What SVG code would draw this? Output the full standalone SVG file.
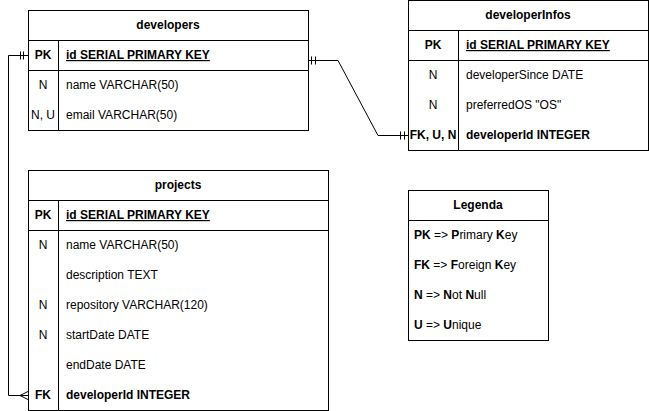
<svg xmlns="http://www.w3.org/2000/svg" width="649" height="411" viewBox="0 0 649 411">
<style>
text{font-family:"Liberation Sans",Arial,sans-serif;font-size:12px;fill:#000}
.t{font-weight:bold;text-anchor:middle}
.k{text-anchor:middle}
.b{font-weight:bold}
.u{text-decoration:underline;font-weight:bold}
.box{fill:#fff;stroke:#000;stroke-width:1}
.ln{stroke:#000;stroke-width:1;fill:none}
</style>
<rect width="649" height="411" fill="#fff"/>
<g id="connectors">
  <path class="ln" d="M28,55.5 H8.5 V395.5 H28"/>
  <path class="ln" d="M20.5,51.5 V59.5 M23.5,51.5 V59.5"/>
  <path class="ln" d="M20,395.5 L28,391.5 M20,395.5 L28,399.5"/>
  <path class="ln" d="M308,60.5 H338 L378,135.5 H408"/>
  <path class="ln" d="M311.5,56.5 V64.5 M315.5,56.5 V64.5"/>
  <path class="ln" d="M400.5,131.5 V139.5 M404.5,131.5 V139.5"/>
</g>
<g id="developers">
  <rect class="box" x="28.5" y="10.5" width="280" height="120"/>
  <path class="ln" d="M28.5,40.5 H308.5 M28.5,70.5 H308.5 M58.5,40.5 V130.5"/>
  <text class="t" x="168" y="29">developers</text>
  <text class="k b" x="43" y="59">PK</text>
  <text class="u" x="66" y="59">id SERIAL PRIMARY KEY</text>
  <text class="k" x="43" y="89">N</text>
  <text x="66" y="89">name VARCHAR(50)</text>
  <text class="k" x="43" y="119">N, U</text>
  <text x="66" y="119">email VARCHAR(50)</text>
</g>
<g id="developerInfos">
  <rect class="box" x="408.5" y="0.5" width="240" height="150"/>
  <path class="ln" d="M408.5,30.5 H648.5 M408.5,60.5 H648.5 M458.5,30.5 V150.5"/>
  <text class="t" x="528" y="19">developerInfos</text>
  <text class="k b" x="433" y="49">PK</text>
  <text class="u" x="466" y="49">id SERIAL PRIMARY KEY</text>
  <text class="k" x="433" y="79">N</text>
  <text x="466" y="79">developerSince DATE</text>
  <text class="k" x="433" y="109">N</text>
  <text x="466" y="109">preferredOS "OS"</text>
  <text class="k b" x="433" y="139">FK, U, N</text>
  <text class="b" x="466" y="139">developerId INTEGER</text>
</g>
<g id="projects">
  <rect class="box" x="28.5" y="170.5" width="300" height="240"/>
  <path class="ln" d="M28.5,200.5 H328.5 M28.5,230.5 H328.5 M58.5,200.5 V410.5"/>
  <text class="t" x="178" y="189">projects</text>
  <text class="k b" x="43" y="219">PK</text>
  <text class="u" x="66" y="219">id SERIAL PRIMARY KEY</text>
  <text class="k" x="43" y="249">N</text>
  <text x="66" y="249">name VARCHAR(50)</text>
  <text x="66" y="279">description TEXT</text>
  <text class="k" x="43" y="309">N</text>
  <text x="66" y="309">repository VARCHAR(120)</text>
  <text class="k" x="43" y="339">N</text>
  <text x="66" y="339">startDate DATE</text>
  <text x="66" y="369">endDate DATE</text>
  <text class="k b" x="43" y="399">FK</text>
  <text class="b" x="66" y="399">developerId INTEGER</text>
</g>
<g id="legenda">
  <rect class="box" x="408.5" y="190.5" width="140" height="150"/>
  <path class="ln" d="M408.5,220.5 H548.5"/>
  <text class="t" x="478" y="209">Legenda</text>
  <text x="414" y="239"><tspan class="b">PK</tspan> =&gt; <tspan class="b">P</tspan>rimary <tspan class="b">K</tspan>ey</text>
  <text x="414" y="269"><tspan class="b">FK</tspan> =&gt; <tspan class="b">F</tspan>oreign <tspan class="b">K</tspan>ey</text>
  <text x="414" y="299"><tspan class="b">N</tspan> =&gt; <tspan class="b">N</tspan>ot <tspan class="b">N</tspan>ull</text>
  <text x="414" y="329"><tspan class="b">U</tspan> =&gt; <tspan class="b">U</tspan>nique</text>
</g>
</svg>
